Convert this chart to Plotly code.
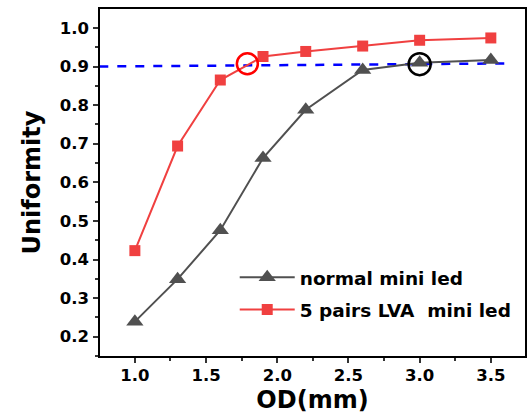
import plotly.graph_objects as go

od = [1.0, 1.3, 1.6, 1.9, 2.2, 2.6, 3.0, 3.5]
normal = [0.239, 0.349, 0.476, 0.663, 0.788, 0.891, 0.910, 0.917]
lva = [0.423, 0.694, 0.865, 0.926, 0.939, 0.953, 0.968, 0.974]
ref_x = [0.75, 3.63]
ref_y = [0.900, 0.908]
red_circle = (1.79, 0.907)
black_circle = (3.0, 0.906)
x_ticks = [1.0, 1.5, 2.0, 2.5, 3.0, 3.5]
y_ticks = [0.2, 0.3, 0.4, 0.5, 0.6, 0.7, 0.8, 0.9, 1.0]
names = ["normal mini led", "5 pairs LVA  mini led"]

FONT = "DejaVu Sans"
fig = go.Figure()
fig.add_trace(go.Scatter(x=ref_x, y=ref_y, mode="lines", showlegend=False,
                         line=dict(color="#0000ff", width=2.5, dash="dash")))
fig.add_trace(go.Scatter(x=od, y=normal, mode="lines+markers", name=names[0],
                         legendgroup="a",
                         line=dict(color="#505050", width=2),
                         marker=dict(symbol="triangle-up", size=15, color="#505050")))
fig.add_trace(go.Scatter(x=od, y=lva, mode="lines+markers", name=names[1],
                         legendgroup="b",
                         line=dict(color="#f04040", width=2),
                         marker=dict(symbol="square", size=11, color="#f04040")))
fig.add_trace(go.Scatter(x=[red_circle[0]], y=[red_circle[1]], mode="markers", showlegend=False,
                         marker=dict(symbol="circle-open", size=21, color="#ff0000",
                                     line=dict(width=2.5, color="#ff0000"))))
fig.add_trace(go.Scatter(x=[black_circle[0]], y=[black_circle[1]], mode="markers", showlegend=False,
                         marker=dict(symbol="circle-open", size=22, color="#000000",
                                     line=dict(width=2.5, color="#000000"))))

tick_font = dict(family=FONT, size=16.5, color="black", weight="bold")
title_font = dict(family=FONT, size=24, color="black", weight="bold")
axis_common = dict(showgrid=False, zeroline=False, showline=True, linecolor="black",
                   linewidth=1.5, mirror=True, ticks="outside", ticklen=5, tickwidth=1.5,
                   tickcolor="#333333", tickfont=tick_font)
fig.update_xaxes(range=[0.755, 3.74], tickmode="array", tickvals=x_ticks,
                 ticktext=["%.1f" % v for v in x_ticks], ticklabelstandoff=-2,
                 minor=dict(dtick=0.25, tick0=1.0, ticks="outside", ticklen=3, tickcolor="#333333"),
                 title=dict(text="OD(mm)", font=title_font, standoff=8),
                 **axis_common)
fig.update_yaxes(range=[0.15, 1.049], tickmode="array", tickvals=y_ticks,
                 ticktext=["%.1f" % v for v in y_ticks], ticklabelstandoff=1,
                 minor=dict(dtick=0.05, tick0=0.2, ticks="outside", ticklen=3, tickcolor="#333333"),
                 title=dict(text="Uniformity", font=title_font, standoff=12),
                 **axis_common)
fig.update_layout(
    width=528, height=417,
    margin=dict(l=100, r=1, t=9, b=61),
    plot_bgcolor="white", paper_bgcolor="white",
    legend=dict(x=0.317, y=0.28, xanchor="left", yanchor="top", bgcolor="rgba(0,0,0,0)",
                tracegroupgap=5, itemwidth=55,
                font=dict(family=FONT, size=18.5, color="black", weight="bold")),
)
fig.write_html("out.html")
